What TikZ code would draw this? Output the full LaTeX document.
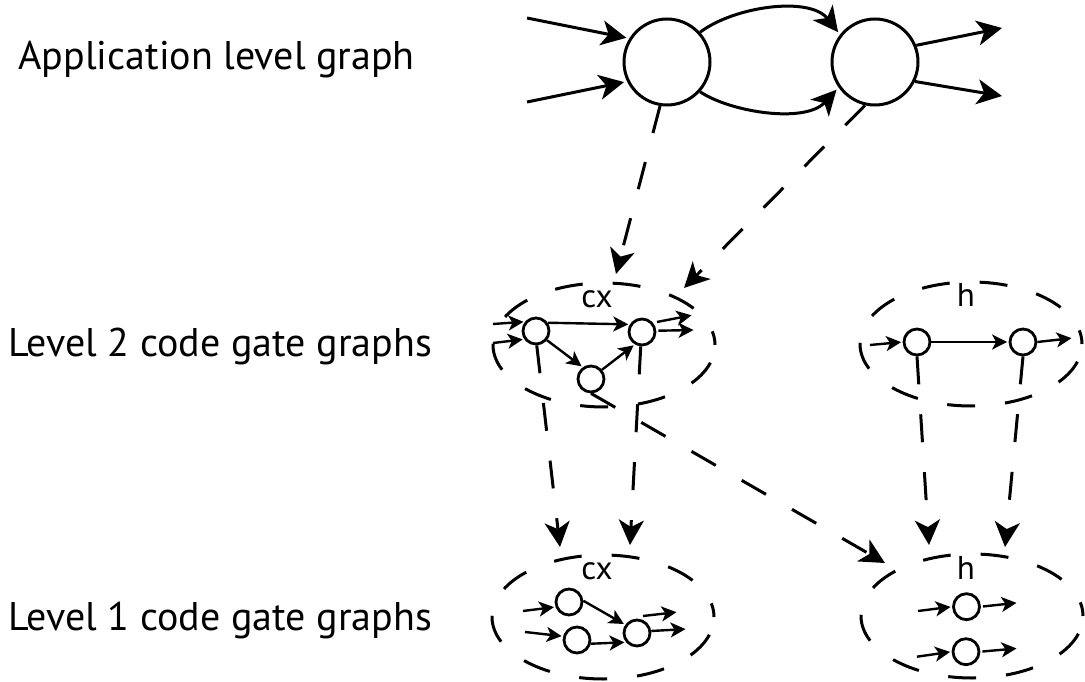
\documentclass[tikz,border=0pt]{standalone}
\usepackage{fontspec}
\setmainfont{PT Sans}
\usetikzlibrary{arrows.meta,shapes.geometric}
\begin{document}
\begin{tikzpicture}[x=1pt,y=-1pt,line width=3pt,
  bigtip/.style={-{Stealth[length=25pt,width=25pt,inset=7pt]}},
  bigarr/.style={bigtip,shorten >=3pt},
  small/.style={line width=2.4pt,-{Stealth[length=15pt,width=15pt,inset=4pt]},shorten >=1.5pt},
  dsh/.style={dash pattern=on 28pt off 30pt},
  bignode/.style={circle,draw,line width=3pt,minimum size=86pt,inner sep=0pt},
  gate/.style={circle,draw,line width=2.8pt,minimum size=26pt,inner sep=0pt},
  grp/.style={ellipse,draw,line width=3pt,dash pattern=on 28pt off 30pt,dash phase=14pt,
              minimum width=222pt,minimum height=124pt,inner sep=0pt},
  lvl/.style={font=\fontsize{40}{42}\selectfont,anchor=base west,inner sep=0pt},
  tag/.style={font=\fontsize{33}{35}\selectfont,inner sep=0pt}
]
\useasboundingbox (0,0) rectangle (1085,682);

% level labels
\node[lvl] (t0) at (17,70) {Application level graph};
\node[lvl] (t2) at (7,356) {Level 2 code gate graphs};
\node[lvl] (t1) at (7,630) {Level 1 code gate graphs};

% application level graph
\node[bignode] (A) at (667,62) {};
\node[bignode] (B) at (875,62) {};
\coordinate (ain1) at (527,18);
\coordinate (ain2) at (527,102);
\coordinate (bout1) at (1002,28);
\coordinate (bout2) at (1002,96);
\draw[bigarr] (ain1) -- (A.148);
\draw[bigarr] (ain2) -- (A.206);
\draw[bigtip] (B.22) -- (bout1);
\draw[bigtip] (B.-26) -- (bout2);
\draw[bigarr] (A.42) .. controls (735,6) and (810,-4) .. (B.142);
\draw[bigarr] (A.-42) .. controls (730,112) and (805,124) .. (B.-145);

% level 2: cx
\node[grp] (G2c) at (604,345) {};
\node[tag] (l2cx) at (597,299.5) {cx};
\node[gate] (p1) at (536,331) {};
\node[gate] (p2) at (642,332) {};
\node[gate] (p3) at (591,379) {};
\coordinate (p1i1) at (493,324);
\coordinate (p1i2) at (493,343);
\coordinate (p2o1) at (693,315);
\coordinate (p2o2) at (695,330);
\draw[small] (p1i1) -- (p1.140);
\draw[small] (p1i2) -- (p1.215);
\draw[small] (p1.35) -- (p2.148);
\draw[small] (p1.-40) -- (p3.125);
\draw[small] (p3.40) -- (p2.-120);
\draw[small,shorten <=4pt] (p2.40) -- (p2o1);
\draw[small,shorten <=2pt] (p2.5) -- (p2o2);

% level 2: h
\node[grp] (G2h) at (971,344) {};
\node[tag] (l2h) at (966,295) {h};
\node[gate] (q1) at (917,342) {};
\node[gate] (q2) at (1023,342) {};
\coordinate (q1i) at (870,345);
\coordinate (q2o) at (1073,338);
\draw[small] (q1i) -- (q1.west);
\draw[small] (q1.east) -- (q2.west);
\draw[small] (q2.east) -- (q2o);

% level 1: cx
\node[grp] (G1c) at (603,617) {};
\node[tag] (l1cx) at (597,571.5) {cx};
\node[gate] (r1) at (569,602) {};
\node[gate] (r2) at (577,640) {};
\node[gate] (r3) at (637,633) {};
\coordinate (r1i) at (523,611);
\coordinate (r2i) at (525,632);
\coordinate (r3o1s) at (643,616);
\coordinate (r3o1e) at (678,612);
\coordinate (r3o2) at (687,629);
\draw[small] (r1i) -- (r1.200);
\draw[small] (r2i) -- (r2.165);
\draw[small] (r1.5) -- (r3.145);
\draw[small] (r2.-15) -- (r3.-140);
\draw[small] (r3o1s) -- (r3o1e);
\draw[small] (r3.8) -- (r3o2);

% level 1: h
\node[grp] (G1h) at (972,616) {};
\node[tag] (l1h) at (966,568) {h};
\node[gate] (s1) at (966.5,606.7) {};
\node[gate] (s2) at (966,651.7) {};
\coordinate (s1i) at (918,611);
\coordinate (s1o) at (1018,602.7);
\coordinate (s2i) at (917,656.7);
\coordinate (s2o) at (1018,648.3);
\draw[small] (s1i) -- (s1.west);
\draw[small,shorten <=2pt] (s1.east) -- (s1o);
\draw[small] (s2i) -- (s2.west);
\draw[small,shorten <=2pt] (s2.east) -- (s2o);

% refinement mappings between levels
\coordinate (m1) at (616,274);
\coordinate (m2) at (684,288);
\coordinate (m3) at (560,547);
\coordinate (m4) at (630,545);
\coordinate (m5) at (885,563);
\coordinate (m6) at (929,545);
\coordinate (m7) at (1005,547);
\draw[bigtip,dsh] (A.-99) -- (m1);
\draw[bigtip,dsh] (B.-103) -- (m2);
\draw[bigtip,dsh] (p1.-87) -- (m3);
\draw[bigtip,dsh] (p2.-95) -- (m4);
\draw[bigtip,dsh] (p3.-90) -- (m5);
\draw[bigtip,dsh] (q1.-90) -- (m6);
\draw[bigtip,dsh] (q2.-90) -- (m7);
\end{tikzpicture}
\end{document}
